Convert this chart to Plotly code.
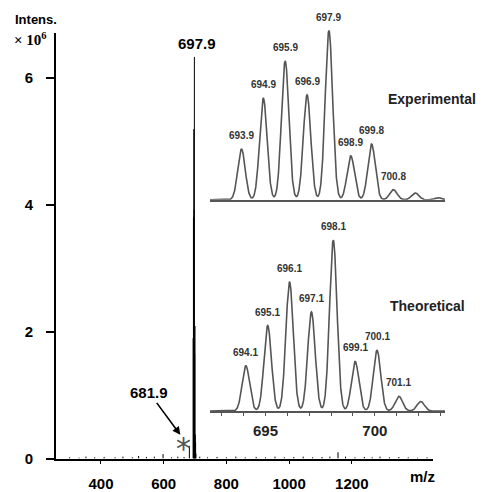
import numpy as np
import plotly.graph_objects as go

# ---------------- data ----------------
# experimental isotope cluster (relative intensity)
exp_mz = [693.9, 694.9, 695.9, 696.9, 697.9, 698.9, 699.85, 700.85, 701.85, 702.9]
exp_rel = [0.30, 0.60, 0.82, 0.62, 1.00, 0.26, 0.33, 0.06, 0.04, 0.012]
exp_labels = ["693.9", "694.9", "695.9", "696.9", "697.9", "698.9", "699.8", "700.8", "", ""]

# theoretical isotope cluster (relative intensity)
theo_mz = [694.1, 695.1, 696.1, 697.1, 698.1, 699.1, 700.1, 701.1, 702.1]
theo_rel = [0.265, 0.50, 0.755, 0.58, 1.00, 0.29, 0.355, 0.086, 0.056]
theo_labels = ["694.1", "695.1", "696.1", "697.1", "698.1", "699.1", "700.1", "701.1", ""]

# full spectrum (intensity x 10^6)
base_peak_int = 6.33
frag_mz = [681.9]
frag_int = [0.20]
noise_mz = [300, 330, 352, 380, 410, 445, 470, 500, 520, 545, 570, 598, 625, 645, 665,
            715, 740, 770, 800, 830, 860, 895, 925, 955, 985, 1015, 1045, 1075, 1105,
            1130, 1156, 1180, 1210, 1240, 1265, 1290, 1320, 1350, 1380, 1410, 1440]
noise_int = [0.02, 0.015, 0.03, 0.02, 0.025, 0.02, 0.03, 0.02, 0.04, 0.025, 0.03, 0.07, 0.02, 0.03, 0.025,
             0.03, 0.02, 0.025, 0.02, 0.03, 0.02, 0.025, 0.02, 0.03, 0.02, 0.025, 0.03, 0.02, 0.025,
             0.03, 0.10, 0.03, 0.02, 0.025, 0.02, 0.03, 0.02, 0.025, 0.02, 0.015, 0.02]

x_ticks = [400, 600, 800, 1000, 1200]
y_ticks = [0, 2, 4, 6]
inset_ticks = [695, 700]
inset_minor_start = 693

# ---------------- layout helpers ----------------
W, H = 486, 492
OFF = 8  # page body margin in the browser
def fx(p):
    return (p - OFF) / W
def fy(p):
    return 1 - (p - OFF) / H

FONT = "Liberation Sans"
SIGMA = 0.17

fig = go.Figure()

# main spectrum sticks
stick_mz = list(noise_mz) + list(frag_mz) + list(exp_mz)
stick_int = list(noise_int) + list(frag_int) + [r * base_peak_int for r in exp_rel]
sx, sy = [], []
for m, h in zip(stick_mz, stick_int):
    sx += [m, m, None]
    sy += [0, h, None]
fig.add_trace(go.Scatter(x=sx, y=sy, mode="lines", line=dict(color="black", width=1),
                         xaxis="x", yaxis="y", showlegend=False, hoverinfo="skip"))

# inset profiles
grid = np.linspace(692.46, 703.21, 1400)
def profile(mz, rel):
    y = np.zeros_like(grid)
    for m, r in zip(mz, rel):
        y += r * np.exp(-0.5 * ((grid - m) / SIGMA) ** 2)
    return y

fig.add_trace(go.Scatter(x=grid, y=profile(exp_mz, exp_rel), mode="lines",
                         line=dict(color="#555555", width=1.6), xaxis="x2", yaxis="y2",
                         showlegend=False, hoverinfo="skip"))
fig.add_trace(go.Scatter(x=grid, y=profile(theo_mz, theo_rel), mode="lines",
                         line=dict(color="#555555", width=1.6), xaxis="x3", yaxis="y3",
                         showlegend=False, hoverinfo="skip"))

annotations = []
# inset peak labels
for m, r, t in zip(exp_mz, exp_rel, exp_labels):
    if t:
        annotations.append(dict(x=m, y=r, xref="x2", yref="y2", text=t, showarrow=False,
                                yanchor="bottom", xanchor="center", yshift=6,
                                font=dict(family=FONT, size=10, color="#333333", weight="bold")))
for m, r, t in zip(theo_mz, theo_rel, theo_labels):
    if t:
        annotations.append(dict(x=m, y=r, xref="x3", yref="y3", text=t, showarrow=False,
                                yanchor="bottom", xanchor="center", yshift=6,
                                font=dict(family=FONT, size=10, color="#333333", weight="bold")))

annotations += [
    dict(x=fx(13), y=fy(20), xref="paper", yref="paper", text="Intens.", showarrow=False,
         xanchor="left", yanchor="middle",
         font=dict(family=FONT, size=13, color="black", weight="bold")),
    dict(x=fx(12), y=fy(40), xref="paper", yref="paper", text="× 10<sup>6</sup>", showarrow=False,
         xanchor="left", yanchor="middle",
         font=dict(family="Liberation Serif", size=15, color="black", weight="bold")),
    dict(x=exp_mz[4], y=base_peak_int, xref="x", yref="y", text="697.9", showarrow=False,
         xanchor="center", yanchor="bottom", xshift=3, yshift=3,
         font=dict(family=FONT, size=15, color="black", weight="bold")),
    dict(x=frag_mz[0], y=frag_int[0], xref="x", yref="y", text="681.9", showarrow=True,
         xshift=-9, yshift=11, ax=-31, ay=-42, arrowhead=2, arrowsize=1, arrowwidth=1.6,
         arrowcolor="black", font=dict(family=FONT, size=15, color="black", weight="bold")),
    dict(x=frag_mz[0], y=frag_int[0], xref="x", yref="y", text="*", showarrow=False,
         xanchor="center", yanchor="middle", xshift=-6, yshift=-3,
         font=dict(family="DejaVu Sans", size=30, color="#555555")),
    dict(x=fx(422), y=fy(484), xref="paper", yref="paper", text="m/z", showarrow=False,
         xanchor="center", yanchor="middle",
         font=dict(family=FONT, size=15, color="black", weight="bold")),
    dict(x=fx(432), y=fy(100), xref="paper", yref="paper", text="Experimental", showarrow=False,
         xanchor="center", yanchor="middle",
         font=dict(family=FONT, size=14, color="#222222", weight="bold")),
    dict(x=fx(427), y=fy(311), xref="paper", yref="paper", text="Theoretical", showarrow=False,
         xanchor="center", yanchor="middle",
         font=dict(family=FONT, size=14, color="#222222", weight="bold")),
]

y_top = (466 - 33) / 64.5
fig.update_layout(
    width=W, height=H, margin=dict(l=0, r=0, t=0, b=0),
    paper_bgcolor="white", plot_bgcolor="rgba(0,0,0,0)",
    showlegend=False,
    xaxis=dict(domain=[fx(56), fx(433)], range=[256.5, 1459], showline=True, linecolor="black",
               linewidth=2, showgrid=False, zeroline=False, tickvals=x_ticks, ticks="outside",
               ticklen=3, tickcolor="black", ticklabelstandoff=7,
               tickfont=dict(family=FONT, size=15, color="black", weight="bold"), anchor="y"),
    yaxis=dict(domain=[fy(466), fy(33)], range=[0, y_top], showline=True, linecolor="black",
               linewidth=2, showgrid=False, zeroline=False, tickvals=y_ticks, ticks="outside",
               ticklen=8, tickwidth=2, tickcolor="black", ticklabelstandoff=10,
               tickfont=dict(family=FONT, size=15, color="black", weight="bold"), anchor="x"),
    xaxis2=dict(domain=[fx(210), fx(445)], range=[692.46, 703.21], showline=True,
                linecolor="#555555", linewidth=1.5, showgrid=False, zeroline=False,
                showticklabels=False, ticks="", anchor="y2"),
    yaxis2=dict(domain=[fy(203), fy(203 - 172 * 1.03)], range=[0, 1.03], visible=False,
                anchor="x2"),
    xaxis3=dict(domain=[fx(210), fx(445)], range=[692.46, 703.21], showline=True,
                linecolor="#555555", linewidth=1.5, showgrid=False, zeroline=False,
                tickvals=inset_ticks, ticks="outside", ticklen=3,
                tickcolor="#555555", ticklabelstandoff=2,
                minor=dict(ticks="outside", ticklen=3, tickcolor="#555555",
                           tick0=inset_minor_start, dtick=1, showgrid=False),
                tickfont=dict(family=FONT, size=15, color="#222222", weight="bold"), anchor="y3"),
    yaxis3=dict(domain=[fy(417.7), fy(417.7 - 173.7 * 1.03)], range=[0, 1.03], visible=False,
                anchor="x3"),
    annotations=annotations,
)

fig.write_html("out.html")
